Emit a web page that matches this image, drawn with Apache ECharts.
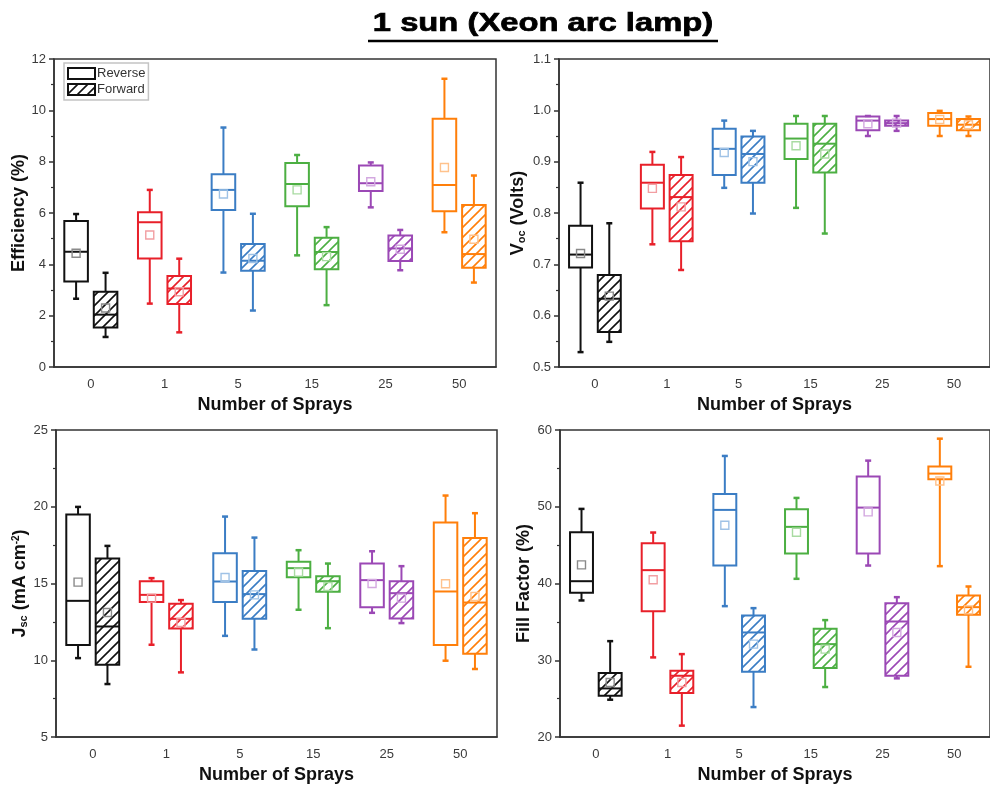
<!DOCTYPE html>
<html>
<head>
<meta charset="utf-8">
<script src="https://cdn.jsdelivr.net/npm/echarts@6/dist/echarts.min.js"></script>
<style>
  html, body { margin: 0; background: #fff; }
  #main { width: 990px; height: 787px; }
</style>
</head>
<body>
<div id="main"></div>
<script>
// categories
var sprays = ['0', '1', '5', '15', '25', '50'];
var boxColors = ['#111111', '#e8202a', '#3b7dc4', '#4caf42', '#9b48b5', '#ff7f0a'];
var meanColors = ['#8a8a8a', '#f29ea2', '#9fc2e6', '#a9dba2', '#d3a8e0', '#ffc28c'];

// each row: [low whisker, Q1, median, Q3, high whisker, mean]
var effReverse = [
    [2.66, 3.33, 4.49, 5.69, 5.96, 4.43],
    [2.47, 4.23, 5.64, 6.03, 6.90, 5.14],
    [3.68, 6.12, 6.90, 7.51, 9.33, 6.74],
    [4.35, 6.26, 7.13, 7.95, 8.26, 6.90],
    [6.22, 6.86, 7.16, 7.85, 7.97, 7.22],
    [5.25, 6.07, 7.09, 9.67, 11.23, 7.77]
];
var effForward = [
    [1.17, 1.54, 2.04, 2.93, 3.67, 2.30],
    [1.35, 2.45, 3.06, 3.55, 4.22, 2.93],
    [2.20, 3.75, 4.14, 4.79, 5.97, 4.23],
    [2.41, 3.81, 4.48, 5.04, 5.45, 4.30],
    [3.77, 4.13, 4.62, 5.12, 5.34, 4.59],
    [3.29, 3.87, 4.40, 6.31, 7.46, 4.98]
];
var vocReverse = [
    [0.529, 0.694, 0.719, 0.775, 0.859, 0.721],
    [0.739, 0.809, 0.859, 0.894, 0.919, 0.848],
    [0.849, 0.874, 0.925, 0.964, 0.980, 0.918],
    [0.810, 0.905, 0.945, 0.974, 0.989, 0.931],
    [0.950, 0.961, 0.980, 0.988, 0.989, 0.974],
    [0.950, 0.970, 0.983, 0.995, 0.999, 0.982]
];
var vocForward = [
    [0.549, 0.568, 0.633, 0.679, 0.780, 0.638],
    [0.689, 0.745, 0.831, 0.874, 0.909, 0.812],
    [0.799, 0.859, 0.915, 0.949, 0.960, 0.900],
    [0.760, 0.879, 0.935, 0.974, 0.989, 0.915],
    [0.960, 0.970, 0.975, 0.980, 0.989, 0.975],
    [0.950, 0.961, 0.972, 0.983, 0.988, 0.972]
];
var jscReverse = [
    [10.14, 10.99, 13.87, 19.49, 19.99, 15.09],
    [11.01, 13.79, 14.26, 15.15, 15.35, 14.05],
    [11.59, 13.79, 15.13, 16.97, 19.36, 15.39],
    [13.29, 15.41, 16.00, 16.41, 17.17, 15.74],
    [13.09, 13.46, 15.22, 16.30, 17.10, 15.00],
    [9.97, 10.99, 14.48, 18.97, 20.73, 14.98]
];
var jscForward = [
    [8.45, 9.71, 12.20, 16.63, 17.45, 13.11],
    [9.21, 12.07, 12.70, 13.68, 13.92, 12.46],
    [10.70, 12.70, 14.31, 15.82, 17.99, 14.26],
    [12.09, 14.46, 15.15, 15.48, 16.30, 14.80],
    [12.42, 12.72, 14.37, 15.15, 16.13, 14.05],
    [9.43, 10.42, 13.76, 17.97, 19.58, 14.15]
];
var ffReverse = [
    [37.79, 38.79, 40.30, 46.68, 49.72, 42.43],
    [30.37, 36.40, 41.74, 45.25, 46.64, 40.48],
    [37.05, 42.34, 49.59, 51.67, 56.62, 47.59],
    [40.61, 43.90, 47.38, 49.67, 51.15, 46.68],
    [42.34, 43.90, 49.89, 53.93, 56.01, 49.33],
    [42.26, 53.58, 54.32, 55.23, 58.87, 53.36]
];
var ffForward = [
    [24.86, 25.38, 26.33, 28.33, 32.49, 27.11],
    [21.48, 25.73, 27.98, 28.63, 30.80, 27.11],
    [23.90, 28.50, 33.62, 35.84, 36.79, 32.10],
    [26.51, 28.98, 32.10, 34.10, 35.23, 31.45],
    [27.64, 27.98, 35.05, 37.44, 38.22, 33.62],
    [29.15, 35.92, 36.92, 38.44, 39.61, 36.57]
];

var fontFamily = '"Liberation Sans", Arial, sans-serif';

// diagonal hatch fill used for the Forward boxes
function hatch(color) {
    var s = 10;
    var c = document.createElement('canvas');
    c.width = s; c.height = s;
    var g = c.getContext('2d');
    g.strokeStyle = color;
    g.lineWidth = 1.6;
    g.beginPath();
    g.moveTo(0, s); g.lineTo(s, 0);
    g.moveTo(-2, 2); g.lineTo(2, -2);
    g.moveTo(s - 2, s + 2); g.lineTo(s + 2, s - 2);
    g.stroke();
    return { image: c, repeat: 'repeat' };
}
var hatches = boxColors.map(hatch);

function renderBox(params, api) {
    var cat = api.value(0);
    var band = api.size([1, 0])[0];
    var fwd = params.seriesName === 'Forward';
    var cx = api.coord([cat, 0])[0] + (fwd ? 0.2 : -0.2) * band;
    var w = band * 0.32;
    var y = function (i) { return api.coord([cat, api.value(i)])[1]; };
    var low = y(1), q1 = y(2), med = y(3), q3 = y(4), high = y(5), mean = y(6);
    var col = boxColors[cat];
    var line = { stroke: col, lineWidth: 2 };
    return {
        type: 'group',
        children: [
            { type: 'line', shape: { x1: cx, y1: high, x2: cx, y2: q3 }, style: line },
            { type: 'line', shape: { x1: cx, y1: q1, x2: cx, y2: low }, style: line },
            { type: 'line', shape: { x1: cx - 3, y1: high, x2: cx + 3, y2: high }, style: { stroke: col, lineWidth: 2.5 } },
            { type: 'line', shape: { x1: cx - 3, y1: low, x2: cx + 3, y2: low }, style: { stroke: col, lineWidth: 2.5 } },
            { type: 'rect', shape: { x: cx - w / 2, y: q3, width: w, height: q1 - q3 },
              style: { fill: fwd ? hatches[cat] : 'none', stroke: col, lineWidth: 2 } },
            { type: 'line', shape: { x1: cx - w / 2, y1: med, x2: cx + w / 2, y2: med }, style: line },
            { type: 'rect', shape: { x: cx - 4, y: mean - 4, width: 8, height: 8 },
              style: { fill: 'none', stroke: meanColors[cat], lineWidth: 1.4 } }
        ]
    };
}

function toData(rows) {
    return rows.map(function (r, i) { return [i].concat(r); });
}

var grids = [
    { left: 54, top: 59, width: 442, height: 308, show: true, borderColor: '#333', borderWidth: 1.5 },
    { left: 559, top: 59, width: 441, height: 308, show: true, borderColor: '#333', borderWidth: 1.5 },
    { left: 56, top: 430, width: 441, height: 307, show: true, borderColor: '#333', borderWidth: 1.5 },
    { left: 560, top: 430, width: 441, height: 307, show: true, borderColor: '#333', borderWidth: 1.5 }
];

var yConf = [
    { min: 0, max: 12, interval: 2, name: 'Efficiency (%)', gap: 25, fmt: function (v) { return v; } },
    { min: 0.5, max: 1.1, interval: 0.1, name: '{b|V}{sub|oc}{b| (Volts)}', gap: 32, fmt: function (v) { return v.toFixed(1); } },
    { min: 5, max: 25, interval: 5, name: '{b|J}{sub|sc}{b| (mA cm}{sup|-2}{b|)}', gap: 27, fmt: function (v) { return v; } },
    { min: 20, max: 60, interval: 10, name: 'Fill Factor (%)', gap: 27, fmt: function (v) { return v; } }
];

var xAxes = grids.map(function (g, i) {
    return {
        gridIndex: i,
        type: 'category',
        data: sprays,
        boundaryGap: true,
        axisLine: { lineStyle: { color: '#333', width: 1.5 } },
        axisTick: { alignWithLabel: true, length: 5, lineStyle: { color: '#333', width: 1.5 } },
        axisLabel: { fontSize: 13, color: '#3a3a3a', margin: 11, fontFamily: fontFamily },
        splitLine: { show: false },
        name: 'Number of Sprays',
        nameLocation: 'middle',
        nameGap: 29,
        nameTextStyle: { fontSize: 18, fontWeight: 'bold', color: '#111', fontFamily: fontFamily }
    };
});

var nameRich = {
    b: { fontSize: 18, fontWeight: 'bold', color: '#111', fontFamily: fontFamily },
    sub: { fontSize: 11, fontWeight: 'bold', color: '#111', fontFamily: fontFamily, verticalAlign: 'bottom', padding: [6, 0, 0, 0] },
    sup: { fontSize: 10, fontWeight: 'bold', color: '#111', fontFamily: fontFamily, verticalAlign: 'top', padding: [0, 0, 6, 0] }
};

var yAxes = yConf.map(function (c, i) {
    return {
        gridIndex: i,
        type: 'value',
        min: c.min,
        max: c.max,
        interval: c.interval,
        axisLine: { show: true, lineStyle: { color: '#333', width: 1.5 } },
        axisTick: { show: true, length: 5, lineStyle: { color: '#333', width: 1.5 } },
        minorTick: { show: true, splitNumber: 2, length: 3, lineStyle: { color: '#333', width: 1.2 } },
        axisLabel: { fontSize: 13, color: '#3a3a3a', margin: 8, fontFamily: fontFamily, formatter: c.fmt },
        splitLine: { show: false },
        name: c.name,
        nameLocation: 'middle',
        nameGap: c.gap,
        nameRotate: 90,
        nameTextStyle: { fontSize: 18, fontWeight: 'bold', color: '#111', fontFamily: fontFamily, rich: nameRich }
    };
});

var panels = [
    [effReverse, effForward],
    [vocReverse, vocForward],
    [jscReverse, jscForward],
    [ffReverse, ffForward]
];

var series = [];
panels.forEach(function (p, i) {
    ['Reverse', 'Forward'].forEach(function (name, k) {
        series.push({
            type: 'custom',
            name: name,
            xAxisIndex: i,
            yAxisIndex: i,
            data: toData(p[k]),
            encode: { x: 0, y: [1, 2, 3, 4, 5, 6] },
            renderItem: renderBox,
            itemStyle: { color: '#000' },
            clip: false
        });
    });
});

var chart = echarts.init(document.getElementById('main'));
chart.setOption({
    backgroundColor: '#fff',
    animation: false,
    grid: grids,
    xAxis: xAxes,
    yAxis: yAxes,
    legend: {
        left: 64,
        top: 63,
        orient: 'vertical',
        itemWidth: 27,
        itemHeight: 11,
        itemGap: 3,
        padding: [4, 3, 4, 3],
        borderColor: '#c4c4c4',
        borderWidth: 1.5,
        selectedMode: false,
        textStyle: { fontSize: 13, color: '#333', fontFamily: fontFamily, padding: [0, 0, 0, -3] },
        data: [
            { name: 'Reverse', icon: 'rect', itemStyle: { color: '#fff', borderColor: '#111', borderWidth: 2 } },
            { name: 'Forward', icon: 'rect', itemStyle: { color: hatches[0], borderColor: '#111', borderWidth: 2 } }
        ]
    },
    graphic: [
        {
            type: 'text', x: 543, y: 12, scaleX: 1.31,
            style: { text: '1 sun (Xeon arc lamp)', fontSize: 25, fontWeight: 'bold', fill: '#000',
                     stroke: '#000', lineWidth: 0.7,
                     fontFamily: fontFamily, align: 'center', verticalAlign: 'top' }
        },
        {
            type: 'line', shape: { x1: 368, y1: 41, x2: 718, y2: 41 },
            style: { stroke: '#000', lineWidth: 2.5 }
        }
    ],
    series: series
});
</script>
</body>
</html>
